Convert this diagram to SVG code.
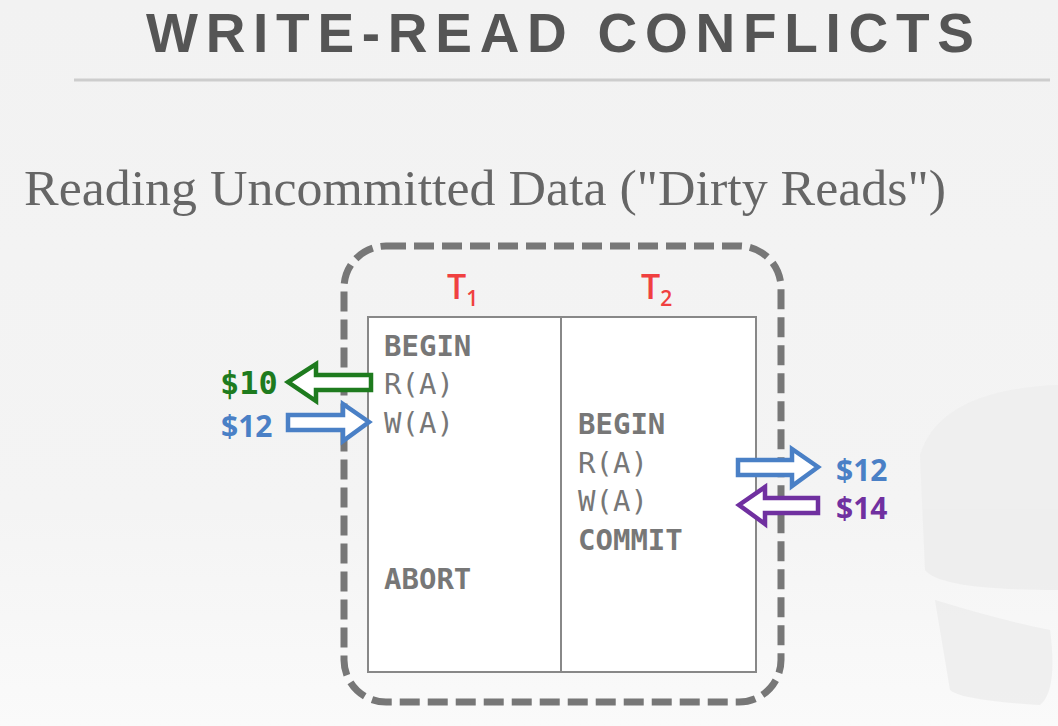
<svg xmlns="http://www.w3.org/2000/svg" width="1058" height="726" viewBox="0 0 1058 726">
<defs>
<linearGradient id="bg" x1="0" y1="0" x2="0" y2="1">
<stop offset="0" stop-color="#f2f2f2"/>
<stop offset="0.7" stop-color="#f4f4f4"/>
<stop offset="1" stop-color="#fafafa"/>
</linearGradient>
<style>
.mono{font-family:"DejaVu Sans Mono","Liberation Mono",monospace;font-size:29px;fill:#777}
.b{font-weight:bold}
.tl{font-family:"Open Sans","Liberation Sans",sans-serif;font-weight:600;fill:#f04040}
.arrow{stroke-width:4.5;fill:#fff;stroke-linejoin:miter}
.val{font-family:"DejaVu Sans Mono",monospace;font-weight:bold;font-size:32px}
.valr{font-family:"Open Sans","Noto Sans",sans-serif;font-weight:bold;font-size:30px}
</style>
</defs>
<rect width="1058" height="726" fill="url(#bg)"/>
<g id="dbicon" fill="#ececec" opacity="0.7">
<path d="M920 455 Q940 390 1058 385 L1058 590 Q940 590 925 570 Z"/>
<path d="M935 600 Q1000 620 1050 630 Q1058 690 1040 705 Q960 700 950 690 Z"/>
</g>
<text x="146" y="52" font-family="Liberation Sans,Arial,sans-serif" font-size="55" font-weight="bold" fill="#555" textLength="828">WRITE-READ CONFLICTS</text>
<line x1="74" y1="80" x2="1050" y2="80" stroke="#cdcdcd" stroke-width="3"/>
<text x="24" y="205" font-family="Liberation Serif,serif" font-size="50" fill="#666" textLength="922" lengthAdjust="spacingAndGlyphs">Reading Uncommitted Data ("Dirty Reads")</text>
<g id="schedule">
<rect x="344" y="246" width="437" height="456" rx="42" fill="none" stroke="#777" stroke-width="7" stroke-dasharray="20 8"/>
<rect x="368" y="317" width="388" height="355" fill="#fff" stroke="#888" stroke-width="2"/>
<line x1="561" y1="317" x2="561" y2="672" stroke="#888" stroke-width="2"/>
</g>
<g id="t1">
<text class="tl" x="447" y="299" font-size="34">T<tspan font-size="21" dy="7">1</tspan></text>
<text class="mono b" x="384" y="356">BEGIN</text>
<text class="mono" x="384" y="394">R(A)</text>
<text class="mono" x="384" y="433">W(A)</text>
<text class="mono b" x="384" y="589">ABORT</text>
</g>
<g id="t2">
<text class="tl" x="641" y="299" font-size="34">T<tspan font-size="21" dy="7">2</tspan></text>
<text class="mono b" x="578" y="434">BEGIN</text>
<text class="mono" x="578" y="473">R(A)</text>
<text class="mono" x="578" y="511">W(A)</text>
<text class="mono b" x="578" y="550">COMMIT</text>
</g>
<g id="connectors">
<polygon class="arrow" stroke="#1e7b1e" points="371,375 316,375 316,364 288,382 316,401 316,390 371,390"/>
<polygon class="arrow" stroke="#4a80c6" points="288,415 343,415 343,404 369,422 343,441 343,430 288,430"/>
<polygon class="arrow" stroke="#4a80c6" points="738,460 792,460 792,449 818,467 792,486 792,475 738,475"/>
<polygon class="arrow" stroke="#7030a0" points="818,498 765,498 765,487 739,505 765,524 765,513 818,513"/>
</g>
<g id="values">
<text class="val" x="220" y="394" fill="#1e7b1e">$10</text>
<text class="valr" x="221" y="437" fill="#4a80c6">$12</text>
<text class="valr" x="836" y="481" fill="#4a80c6">$12</text>
<text class="valr" x="836" y="519" fill="#7030a0">$14</text>
</g>
</svg>
